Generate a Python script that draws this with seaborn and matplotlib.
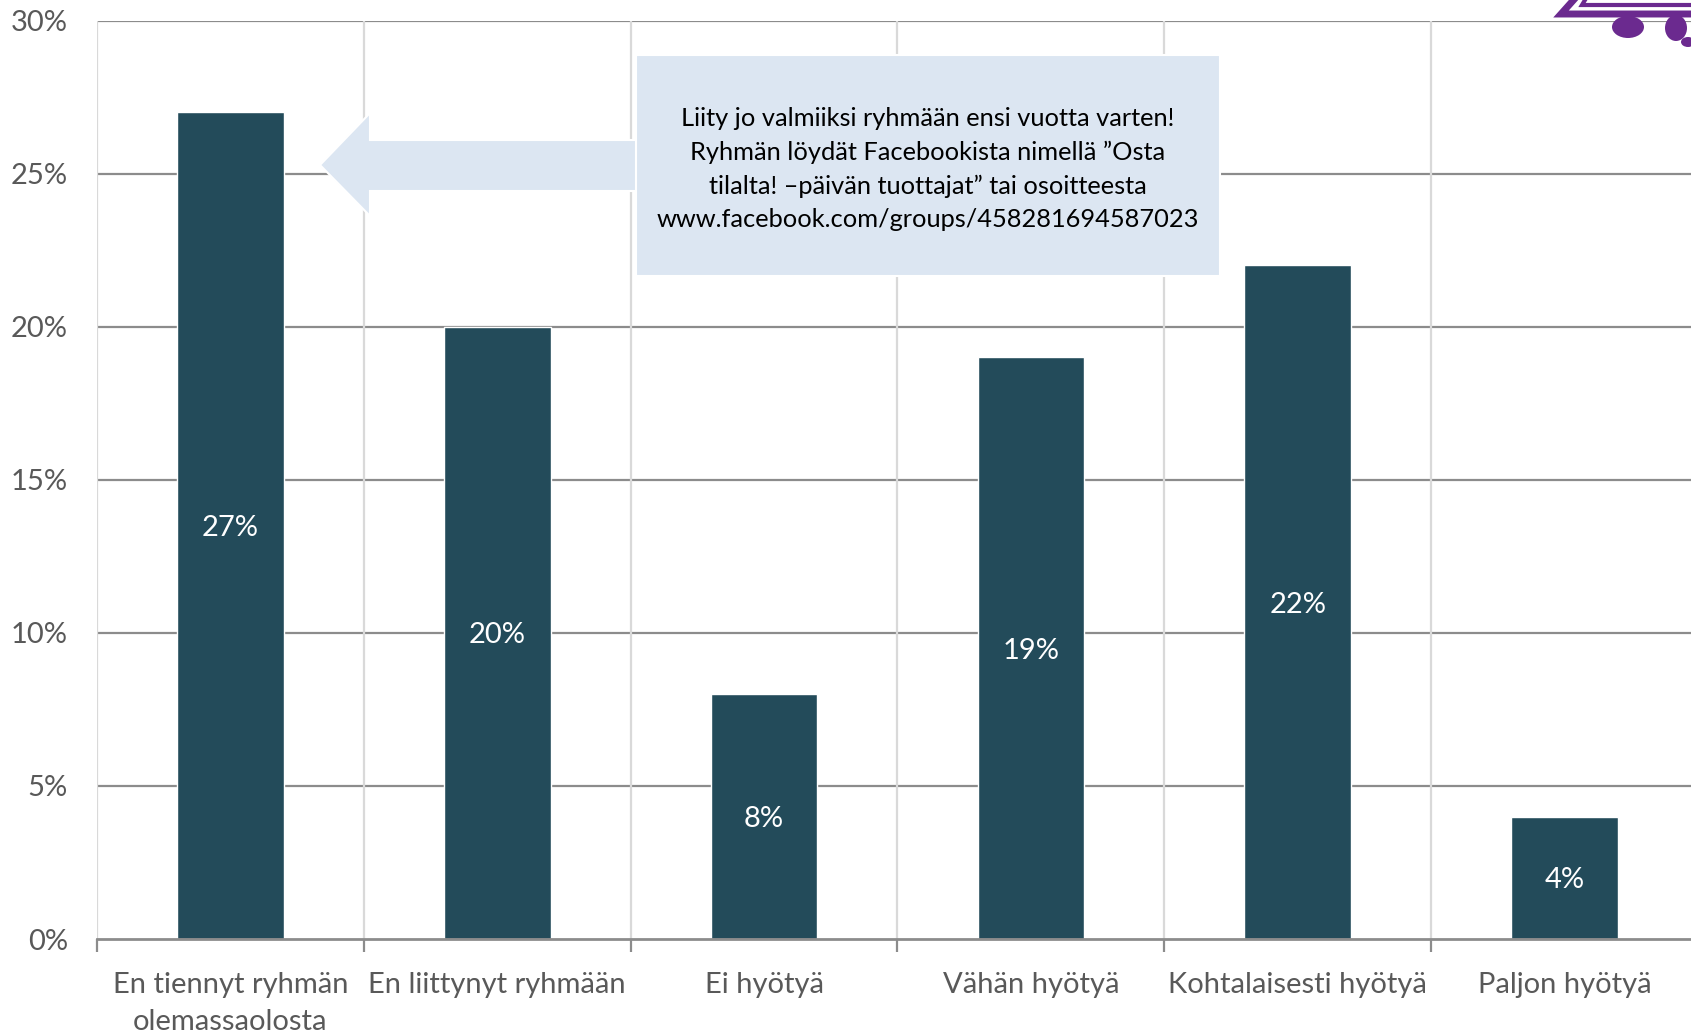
import matplotlib
matplotlib.use("Agg")
import matplotlib.pyplot as plt
from matplotlib.patches import Polygon, Rectangle, Ellipse
import seaborn as sns
import pandas as pd

# Data
categories = ["En tiennyt ryhmän\nolemassaolosta", "En liittynyt ryhmään", "Ei hyötyä",
              "Vähän hyötyä", "Kohtalaisesti hyötyä", "Paljon hyötyä"]
values = [27, 20, 8, 19, 22, 4]
y_ticks = [0, 5, 10, 15, 20, 25, 30]
note = ("Liity jo valmiiksi ryhmään ensi vuotta varten!\n"
        "Ryhmän löydät Facebookista nimellä ”Osta\n"
        "tilalta! –päivän tuottajat” tai osoitteesta\n"
        "www.facebook.com/groups/458281694587023")

bar_color = "#234B5A"
box_color = "#DCE6F2"
logo_color = "#6B2A8F"

sns.set_style("white")
plt.rcParams['font.family'] = ['Lato', 'DejaVu Sans']

df = pd.DataFrame({"cat": categories, "val": values})

W, H = 1691, 1032
fig = plt.figure(figsize=(W / 100, H / 100), dpi=100)
ax = fig.add_axes([97 / W, 1 - 939 / H, 1601 / W, (939 - 20.5) / H])

sns.barplot(data=df, x="cat", y="val", color=bar_color, width=0.4,
            saturation=1, ax=ax, zorder=3)

ax.set_ylim(0, 30)
ax.set_xlim(-0.5, len(categories) - 0.5)
ax.set_yticks(y_ticks)
ax.set_yticklabels([f"{t}%" for t in y_ticks])
ax.set_xlabel("")
ax.set_ylabel("")

# gridlines: horizontal darker, vertical light at category boundaries
for t in y_ticks[1:]:
    ax.axhline(t, color="#8c8c8c", lw=1.6, zorder=1)
for b in range(len(categories)):
    ax.axvline(b - 0.5, color="#d9d9d9", lw=1.6, zorder=1)

ax.set_xticks([b - 0.5 for b in range(len(categories) + 1)], minor=True)
ax.tick_params(axis="x", which="minor", bottom=True, length=9, width=1.6,
               color="#8c8c8c", direction="out")
ax.tick_params(axis="x", which="major", bottom=True, length=0, pad=24,
               labelsize=21, labelcolor="#595959")
ax.tick_params(axis="y", length=0, pad=21, labelsize=21, labelcolor="#595959")
for lab in ax.get_xticklabels():
    lab.set_linespacing(1.5)

for s in ["top", "right", "left"]:
    ax.spines[s].set_visible(False)
ax.spines["bottom"].set_color("#8c8c8c")
ax.spines["bottom"].set_linewidth(2)
ax.spines["bottom"].set_zorder(4)

# value labels in the middle of bars
for i, v in enumerate(values):
    ax.text(i, v / 2, f"{v}%", ha="center", va="center_baseline", color="white",
            fontsize=21, zorder=5)

# callout box with arrow (figure pixel coordinates)
def fx(px):
    return px / W

def fy(py):
    return 1 - py / H

arrow = Polygon([(fx(320), fy(165)), (fx(370), fy(113)), (fx(370), fy(140)),
                 (fx(640), fy(140)), (fx(640), fy(191)), (fx(370), fy(191)),
                 (fx(370), fy(216))], closed=True, transform=fig.transFigure,
                facecolor=box_color, edgecolor="white", lw=1.5, zorder=10)
fig.patches.append(arrow)
box = Rectangle((fx(636), fy(276)), fx(1220) - fx(636), fy(55) - fy(276),
                transform=fig.transFigure, facecolor=box_color, edgecolor="white",
                lw=1.5, zorder=11)
fig.patches.append(box)
fig.text(fx(928), fy(169), note, ha="center", va="center", fontsize=18.3,
         color="black", linespacing=1.53, zorder=12)

# clipped logo fragment in the top-right corner
frame = Polygon([(fx(1561), fy(14)), (fx(1578), fy(-5)), (fx(1700), fy(-5)),
                 (fx(1700), fy(14))], closed=True, transform=fig.transFigure,
                facecolor="white", edgecolor=logo_color, lw=5, zorder=13)
fig.patches.append(frame)
inner = Polygon([(fx(1582), fy(5)), (fx(1588), fy(-5)), (fx(1700), fy(-5)),
                 (fx(1700), fy(5))], closed=True, transform=fig.transFigure,
                facecolor="white", edgecolor=logo_color, lw=3, zorder=14)
fig.patches.append(inner)
for cx, cy, w, h in [(1628, 27, 32, 22), (1676, 28, 22, 26), (1688, 42, 14, 10)]:
    fig.patches.append(Ellipse((fx(cx), fy(cy)), w / W, h / H, transform=fig.transFigure,
                               facecolor=logo_color, edgecolor="none", zorder=13))

fig.savefig("out.png", dpi=100)
